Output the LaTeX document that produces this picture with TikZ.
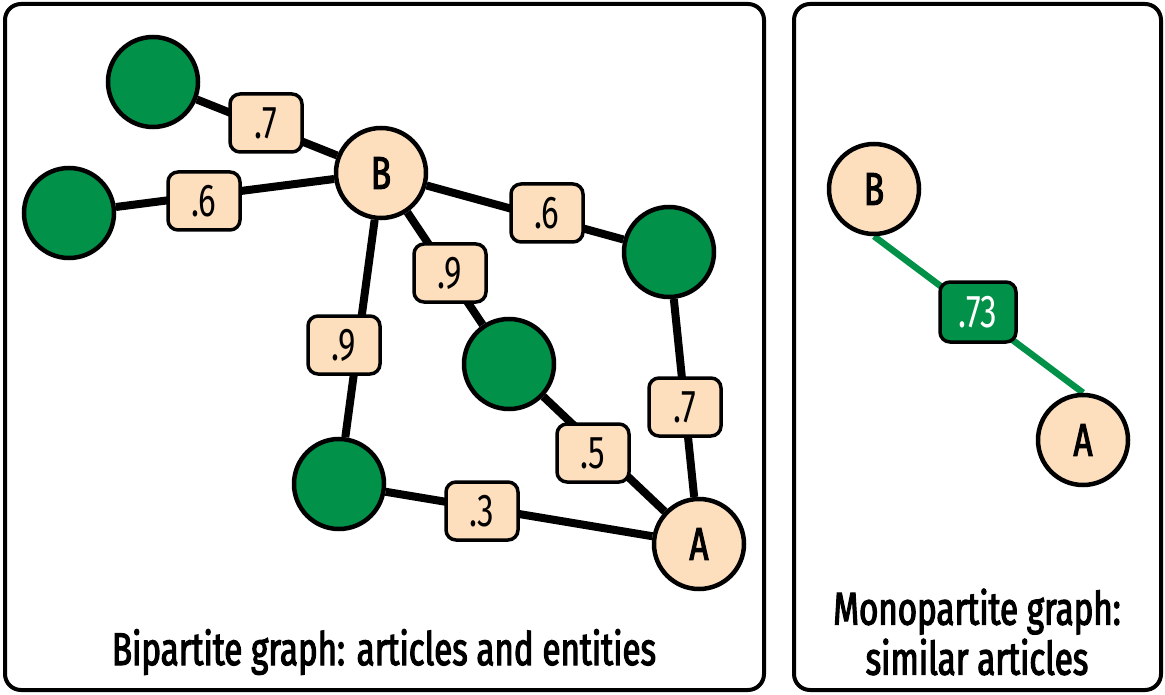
\documentclass[tikz,border=0pt]{standalone}
\usepackage{fontspec}
\setmainfont[FakeStretch=0.72,FakeBold=2.5]{Fira Sans}
\newfontfamily\lblfont[FakeStretch=0.72]{Fira Sans}
\usetikzlibrary{backgrounds}
\definecolor{gr}{RGB}{2,145,72}
\definecolor{peach}{RGB}{253,223,190}
\begin{document}
\begin{tikzpicture}[x=1pt,y=-1pt,
  panel/.style={draw=black,line width=4pt,rounded corners=16pt},
  ent/.style={circle,draw=black,line width=4.5pt,fill=gr,minimum size=90pt,inner sep=0pt},
  art/.style={circle,draw=black,line width=4.5pt,fill=peach,minimum size=90pt,inner sep=0pt,font=\fontsize{46}{46}\selectfont},
  edge/.style={line width=8pt},
  gedge/.style={line width=6.5pt,draw=gr},
  wlabel/.style={draw=black,line width=3.5pt,fill=peach,rounded corners=10pt,minimum width=72pt,minimum height=58pt,inner sep=0pt,font=\lblfont\fontsize{46}{46}\selectfont},
  glabel/.style={wlabel,fill=gr,text=white,minimum width=76pt,minimum height=60pt},
  title/.style={font=\fontsize{46}{50}\selectfont,align=center}]
\useasboundingbox (0,0) rectangle (1165,695);
\draw[panel] (5,4) rectangle (764,690);
\draw[panel] (794,4) rectangle (1161,690);
% nodes
\node[ent] (g1) at (153,82) {};
\node[ent] (g2) at (69,213) {};
\node[ent] (g3) at (669,252) {};
\node[ent] (g4) at (509,364) {};
\node[ent] (g5) at (339,484) {};
\node[art] (B) at (381,173) {B};
\node[art] (A) at (699,544) {A};
\node[art] (B2) at (874,189) {B};
\node[art] (A2) at (1083,440) {A};
% edges
\begin{pgfonlayer}{background}
\draw[edge] (g1) -- (B);
\draw[edge] (g2) -- (B);
\draw[edge] (B) -- (g3);
\draw[edge] (B) -- (g4);
\draw[edge] (B) -- (g5);
\draw[edge] (g3) -- (A);
\draw[edge] (g4) -- (A);
\draw[edge] (g5) -- (A);
\draw[gedge] (B2.south) -- (A2.north);
\end{pgfonlayer}
% weights
\node[wlabel] (l1) at (266,123) {.7};
\node[wlabel] (l2) at (204,201) {.6};
\node[wlabel] (l3) at (547,213) {.6};
\node[wlabel] (l4) at (450,273) {.9};
\node[wlabel] (l5) at (344,345) {.9};
\node[wlabel] (l6) at (685,407) {.7};
\node[wlabel] (l7) at (593,453) {.5};
\node[wlabel] (l8) at (482,511) {.3};
\node[glabel] (l9) at (978,312) {.73};
% titles
\node[title] (t1) at (384,652) {Bipartite graph: articles and entities};
\node[title] (t2) at (977,632) {Monopartite graph:\\similar articles};
\end{tikzpicture}
\end{document}
